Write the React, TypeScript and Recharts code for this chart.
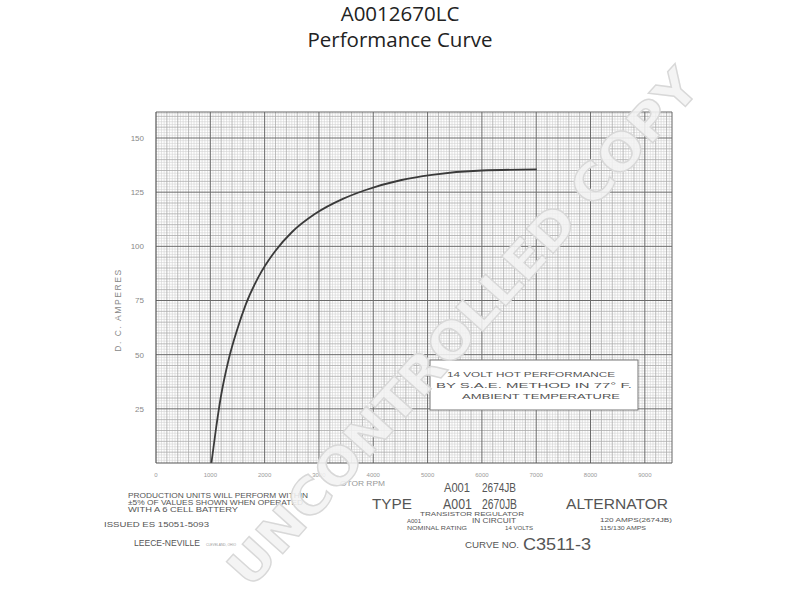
import React from 'react';
import { LineChart, Line, XAxis, YAxis, ReferenceLine } from 'recharts';

// Motor RPM vs D.C. amperes (14 volt hot performance)
const rpm = [1020, 1100, 1190, 1340, 1500, 1650, 1890, 2200, 2500, 2930, 3450, 3860, 4500, 5080, 6000, 7010];
const amps = [0, 15, 30, 48, 62, 73, 86, 98, 106.5, 115, 122, 126, 130.5, 133, 135, 135.5];

const xTicks = [0, 1000, 2000, 3000, 4000, 5000, 6000, 7000, 8000, 9000];
const yTicks = [25, 50, 75, 100, 125, 150];

const X_MAX = 9500;
const Y_MAX = 162;

const data = rpm.map((r, i) => ({ rpm: r, amps: amps[i] }));

function steps(max: number, step: number, skip: number[]): number[] {
  const out: number[] = [];
  for (let i = 1; i * step < max - 1e-6; i++) {
    const v = +(i * step).toFixed(4);
    if (skip.some((s) => Math.abs(v / s - Math.round(v / s)) < 1e-6)) continue;
    out.push(v);
  }
  return out;
}

const xMajor = steps(X_MAX, 1000, []);
const xMedium = steps(X_MAX, 200, [1000]);
const xMinor = steps(X_MAX, 50, [200]);
const yMajor = steps(Y_MAX, 25, []);
const yMedium = steps(Y_MAX, 5, [25]);
const yMinor = steps(Y_MAX, 1.25, [5]);

const FONT = '"Liberation Sans", "DejaVu Sans", sans-serif';
const INK = '#555';

export default function App() {
  return (
    <div style={{ position: 'absolute', left: 0, top: 0, width: 800, height: 600, background: '#fff' }}>
      <LineChart
        width={800}
        height={600}
        data={data}
        margin={{ top: 112, right: 128, bottom: 117, left: 116 }}
      >
        {xMinor.map((v) => (
          <ReferenceLine key={'xm' + v} x={v} stroke="#d2d2d2" strokeWidth={0.6} />
        ))}
        {yMinor.map((v) => (
          <ReferenceLine key={'ym' + v} y={v} stroke="#d2d2d2" strokeWidth={0.6} />
        ))}
        {xMedium.map((v) => (
          <ReferenceLine key={'xd' + v} x={v} stroke="#ababab" strokeWidth={0.8} />
        ))}
        {yMedium.map((v) => (
          <ReferenceLine key={'yd' + v} y={v} stroke="#ababab" strokeWidth={0.8} />
        ))}
        {xMajor.map((v) => (
          <ReferenceLine key={'xM' + v} x={v} stroke="#6a6a6a" strokeWidth={1} />
        ))}
        {yMajor.map((v) => (
          <ReferenceLine key={'yM' + v} y={v} stroke="#6a6a6a" strokeWidth={1} />
        ))}
        <ReferenceLine x={X_MAX} stroke="#666" strokeWidth={1} />
        <ReferenceLine y={Y_MAX} stroke="#666" strokeWidth={1} />
        <XAxis
          dataKey="rpm"
          type="number"
          domain={[0, X_MAX]}
          allowDataOverflow
          ticks={xTicks}
          interval={0}
          height={20}
          tickLine={false}
          axisLine={{ stroke: '#555', strokeWidth: 1.2 }}
          tick={{ fontSize: 6, fill: '#999', fontFamily: FONT }}
          tickMargin={4}
        />
        <YAxis
          type="number"
          domain={[0, Y_MAX]}
          allowDataOverflow
          ticks={yTicks}
          interval={0}
          width={40}
          tickLine={false}
          axisLine={{ stroke: '#555', strokeWidth: 1.2 }}
          tick={{ fontSize: 8, fill: '#888', fontFamily: FONT }}
          tickMargin={6}
        />
        <Line
          dataKey="amps"
          type="monotone"
          stroke="#3a3a3a"
          strokeWidth={1.8}
          dot={false}
          isAnimationActive={false}
        />
      </LineChart>

      <svg
        width={800}
        height={600}
        style={{ position: 'absolute', left: 0, top: 0, pointerEvents: 'none' }}
      >
        <text x={400} y={21} textAnchor="middle" fontFamily='"Open Sans", sans-serif' fontSize={20.5} fill="#222">
          A0012670LC
        </text>
        <text x={400} y={47} textAnchor="middle" fontFamily='"Open Sans", sans-serif' fontSize={20.5} fill="#222">
          Performance Curve
        </text>

        <text
          x={0}
          y={0}
          transform="translate(121,310) rotate(-90)"
          textAnchor="middle"
          fontFamily={FONT}
          fontSize={8.5}
          letterSpacing={1.6}
          fill="#888"
        >
          D. C. AMPERES
        </text>

        <rect x={430} y={360} width={208} height={50} fill="#fff" stroke="#777" strokeWidth={1} />
        <text x={531} y={377} textAnchor="middle" fontFamily={FONT} fontSize={8} fill={INK} textLength={168} lengthAdjust="spacingAndGlyphs">
          14 VOLT HOT PERFORMANCE
        </text>
        <text x={534} y={388} textAnchor="middle" fontFamily={FONT} fontSize={8} fill={INK} textLength={196} lengthAdjust="spacingAndGlyphs">
          BY S.A.E. METHOD IN 77° F.
        </text>
        <text x={541} y={399} textAnchor="middle" fontFamily={FONT} fontSize={8} fill={INK} textLength={158} lengthAdjust="spacingAndGlyphs">
          AMBIENT TEMPERATURE
        </text>

        <text x={340} y={486} fontFamily={FONT} fontSize={7} fill="#999" textLength={45} lengthAdjust="spacingAndGlyphs">
          OTOR RPM
        </text>

        <g fontFamily={FONT} fill={INK}>
          <text x={128} y={498} fontSize={6.5} textLength={180} lengthAdjust="spacingAndGlyphs">PRODUCTION UNITS WILL PERFORM WITHIN</text>
          <text x={128} y={505} fontSize={6.5} textLength={175} lengthAdjust="spacingAndGlyphs">±5% OF VALUES SHOWN WHEN OPERATED</text>
          <text x={128} y={512} fontSize={6.5} textLength={110} lengthAdjust="spacingAndGlyphs">WITH A 6 CELL BATTERY</text>
          <text x={104} y={527} fontSize={6.5} textLength={105} lengthAdjust="spacingAndGlyphs">ISSUED ES 15051-5093</text>
          <text x={134} y={546} fontSize={8.5} textLength={66} lengthAdjust="spacingAndGlyphs">LEECE-NEVILLE</text>
          <text x={206} y={546} fontSize={4} fill="#999" textLength={30} lengthAdjust="spacingAndGlyphs">CLEVELAND, OHIO</text>

          <text x={444} y={492} fontSize={12.5} textLength={26} lengthAdjust="spacingAndGlyphs">A001</text>
          <text x={482} y={492} fontSize={12.5} textLength={34} lengthAdjust="spacingAndGlyphs">2674JB</text>
          <text x={372} y={509} fontSize={15} textLength={40} lengthAdjust="spacingAndGlyphs">TYPE</text>
          <text x={443} y={509} fontSize={15} textLength={29} lengthAdjust="spacingAndGlyphs">A001</text>
          <text x={482} y={509} fontSize={15} textLength={35} lengthAdjust="spacingAndGlyphs">2670JB</text>
          <text x={566} y={509} fontSize={15} textLength={102} lengthAdjust="spacingAndGlyphs">ALTERNATOR</text>
          <text x={420} y={516} fontSize={6} textLength={104} lengthAdjust="spacingAndGlyphs">TRANSISTOR REGULATOR</text>
          <text x={407} y={523} fontSize={6}>A001</text>
          <text x={472} y={523} fontSize={7} textLength={44} lengthAdjust="spacingAndGlyphs">IN CIRCUIT</text>
          <text x={407} y={530} fontSize={5.5} textLength={60} lengthAdjust="spacingAndGlyphs">NOMINAL RATING</text>
          <text x={505} y={530} fontSize={5.5} textLength={28} lengthAdjust="spacingAndGlyphs">14 VOLTS</text>
          <text x={600} y={522} fontSize={5.5} textLength={72} lengthAdjust="spacingAndGlyphs">120 AMPS(2674JB)</text>
          <text x={600} y={530} fontSize={5.5} textLength={46} lengthAdjust="spacingAndGlyphs">115/130 AMPS</text>
          <text x={465} y={548} fontSize={9} textLength={54} lengthAdjust="spacingAndGlyphs">CURVE NO.</text>
          <text x={523} y={550} fontSize={17} textLength={68} lengthAdjust="spacingAndGlyphs">C3511-3</text>
        </g>

        <text
          x={0}
          y={0}
          transform="translate(466,330) rotate(-48)"
          textAnchor="middle"
          dominantBaseline="middle"
          fontFamily='"DejaVu Sans", sans-serif'
          fontWeight="bold"
          fontSize={50}
          textLength={675}
          lengthAdjust="spacingAndGlyphs"
          fill="#f3f3f3"
          fillOpacity={0.88}
          stroke="#d8d8d8"
          strokeWidth={1.4}
        >
          UNCONTROLLED COPY
        </text>
      </svg>
    </div>
  );
}
